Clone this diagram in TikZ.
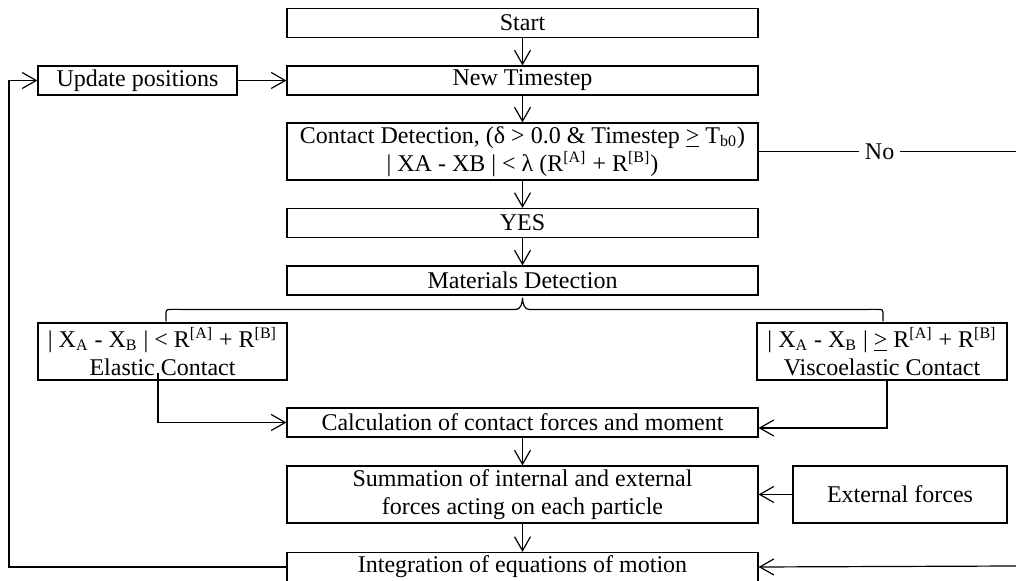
\documentclass[tikz,border=0pt]{standalone}
\usepackage{fontspec}
\setmainfont{Liberation Serif}
\usetikzlibrary{arrows.meta,calc}
\begin{document}
\begin{tikzpicture}[x=0.5pt,y=-0.5pt,
  box/.style={draw, line width=0.6pt, inner sep=0pt, align=center,
              font=\fontsize{12}{14}\selectfont},
  mainbox/.style={box, minimum width=235.5pt},
  short/.style={minimum height=14.5pt},
  tall/.style={minimum height=28.5pt},
  link/.style={line width=0.6pt},
  arr/.style={link, -{Straight Barb[length=7pt,width=8pt,line width=0.6pt]}}]
\useasboundingbox (0,0) rectangle (1016,581);

% main column
\node[mainbox,short] (start) at (522.5,23) {Start};
\node[mainbox,short] (new) at (522.5,80.5) {New Timestep};
\node[mainbox,tall] (contact) at (522.5,151.5)
  {Contact Detection, (δ > 0.0 \& Timestep \underline{>} T\textsubscript{b0})\\
   | XA - XB | < λ (R\textsuperscript{[A]} + R\textsuperscript{[B]})};
\node[mainbox,short] (yes) at (522.5,223) {YES};
\node[mainbox,short] (mat) at (522.5,280.5) {Materials Detection};
\node[mainbox,short] (calc) at (522.5,422.5) {Calculation of contact forces and moment};
\node[mainbox,tall] (sum) at (522.5,494.5)
  {Summation of internal and external\\ forces acting on each particle};
\node[mainbox,short] (integ) at (522.5,567) {Integration of equations of motion};

% side boxes
\node[box,short,minimum width=99.5pt] (update) at (137.5,80.5) {Update positions};
\node[box,tall,minimum width=124.5pt] (elastic) at (162.5,351.5)
  {| X\textsubscript{A} - X\textsubscript{B} | < R\textsuperscript{[A]} + R\textsuperscript{[B]}\\ Elastic Contact};
\node[box,tall,minimum width=125pt] (visco) at (882,351.5)
  {| X\textsubscript{A} - X\textsubscript{B} | \underline{>} R\textsuperscript{[A]} + R\textsuperscript{[B]}\\ Viscoelastic Contact};
\node[box,tall,minimum width=107pt] (ext) at (900,494.5) {External forces};

% free ends at the edges
\coordinate (loop) at (9,567);
\coordinate (noend) at (1016,151.5);
\coordinate (rin) at (1016,566);

% vertical flow
\draw[arr] (start) -- (new);
\draw[arr] (new) -- (contact);
\draw[arr] (contact) -- (yes);
\draw[arr] (yes) -- (mat);
\draw[arr] (calc) -- (sum);
\draw[arr] (sum) -- (integ);

% branching brace under the materials detection
\coordinate (bl) at ($(elastic.north)+(3.5,-1)$);
\coordinate (br) at ($(visco.north)+(1,-1)$);
\coordinate (tip) at ($(mat.south)+(0,2)$);
\draw[link] (bl) -- ++(0,-6) .. controls ++(0,-6) .. ++(6,-6)
  -- ($(tip)+(-7,12)$) .. controls ($(tip)+(-2,12)$) and ($(tip)+(0,6)$) .. (tip)
  .. controls ($(tip)+(0,6)$) and ($(tip)+(2,12)$) .. ($(tip)+(7,12)$)
  -- ($(br)+(-6,-12)$) .. controls ($(br)+(0,-12)$) .. ($(br)+(0,-6)$) -- (br);

% contact branches into the force calculation
\draw[arr] ($(elastic.south)+(-4.5,-8)$) |- (calc.west);
\draw[arr] ($(visco.south)+(5,0)$) |- ($(calc.east)+(0,5.5)$);

% external forces
\draw[arr] (ext) -- (sum);

% no-contact branch
\draw[link] (contact.east) -- node[pos=0.47, fill=white, inner sep=3pt,
  font=\fontsize{12}{14}\selectfont] (no) {No} (noend);
\draw[arr] (rin) -- (integ.east);

% time loop
\draw[arr] (integ.west) -- (loop) |- (update.west);
\draw[arr] (update) -- (new);
\end{tikzpicture}
\end{document}
